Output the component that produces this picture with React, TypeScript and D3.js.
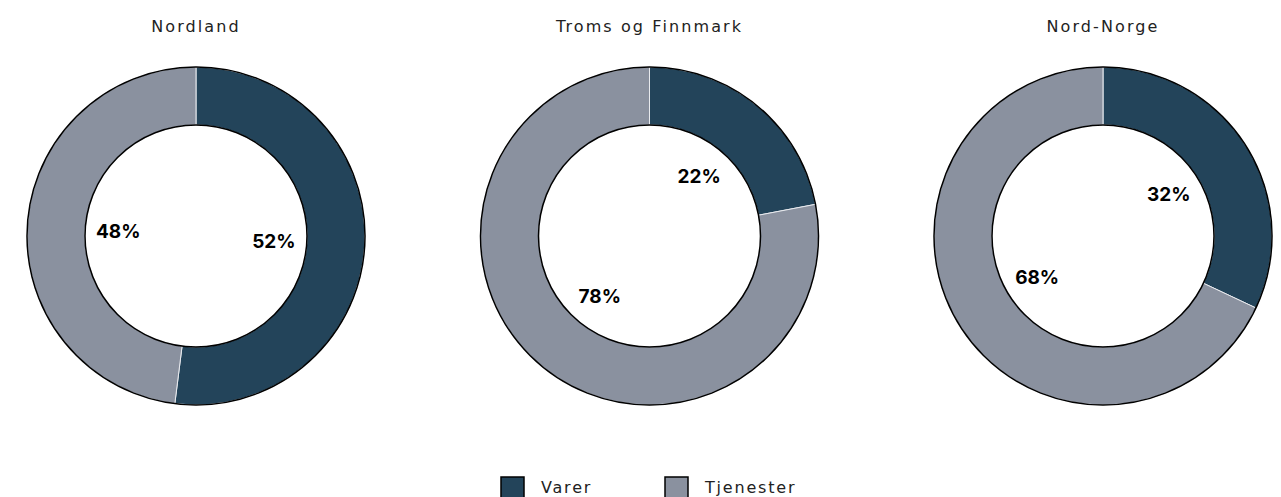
import React from 'react';
import * as d3 from 'd3';

const regions = ['Nordland', 'Troms og Finnmark', 'Nord-Norge'];
const categories = ['Varer', 'Tjenester'];
const varer = [52, 22, 32];
const tjenester = [48, 78, 68];
const colors = ['#23445a', '#8a919f'];

const width = 1281;
const height = 497;

const App = () => {
    const outerR = 169;
    const innerR = 111;
    const cy = 236;
    const x = d3.scalePoint<string>().domain(regions).range([196, 1103]);
    const pie = d3.pie<number>().sort(null).value((d) => d);
    const arc = d3.arc<d3.PieArcDatum<number>>().innerRadius(innerR).outerRadius(outerR);
    const labelArc = d3.arc<d3.PieArcDatum<number>>().innerRadius(78).outerRadius(78);
    const color = d3.scaleOrdinal<string>().domain(categories).range(colors);

    return (
        <svg width={width} height={height} style={{ position: 'absolute', left: 0, top: 0, fontFamily: '"DejaVu Sans", sans-serif' }}>
            {regions.map((r, i) => {
                const arcs = pie([varer[i], tjenester[i]]);
                return (
                    <g key={r} transform={`translate(${x(r)},${cy})`}>
                        <text y={-204} textAnchor="middle" fontSize={16} letterSpacing={2.1} fill="#222">{r}</text>
                        {arcs.map((a, j) => (
                            <path key={j} d={arc(a) || ''} fill={color(categories[j])} stroke="#e8eaee" strokeWidth={1} />
                        ))}
                        <circle r={outerR} fill="none" stroke="#000" strokeWidth={1.5} />
                        <circle r={innerR} fill="none" stroke="#000" strokeWidth={1.5} />
                        {arcs.map((a, j) => {
                            const [lx, ly] = labelArc.centroid(a);
                            return (
                                <text key={'l' + j} x={lx} y={ly} dy="0.35em" textAnchor="middle"
                                    fontFamily="Inter, sans-serif" fontSize={19} fontWeight={700} fill="#000">{a.data}%</text>
                            );
                        })}
                    </g>
                );
            })}
            <g transform="translate(500,476)">
                {categories.map((c, i) => (
                    <g key={c} transform={`translate(${i * 164},0)`}>
                        <rect x={1} y={1} width={23} height={23} fill={color(c)} stroke="#000" strokeWidth={1.5} />
                        <text x={41} y={17} fontSize={16} letterSpacing={1.8} fill="#222">{c}</text>
                    </g>
                ))}
            </g>
        </svg>
    );
};

export default App;
